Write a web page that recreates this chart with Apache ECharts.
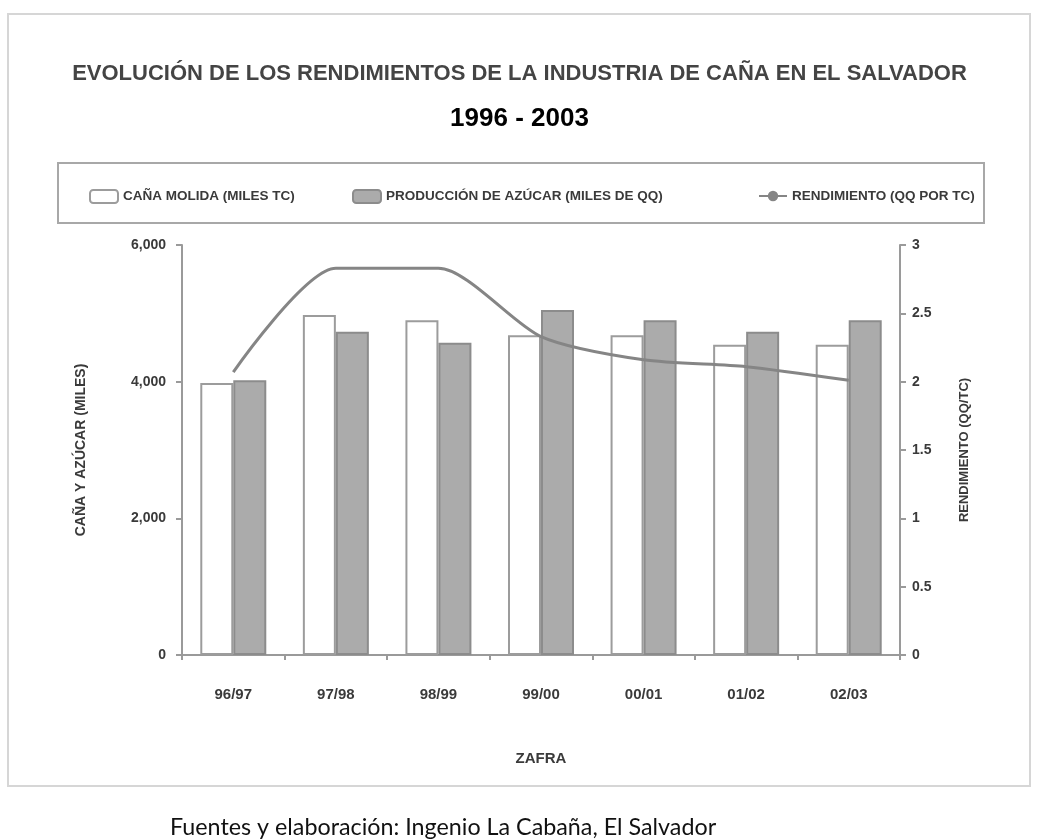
<!DOCTYPE html>
<html>
<head>
<meta charset="utf-8">
<script src="https://cdn.jsdelivr.net/npm/echarts@6/dist/echarts.min.js"></script>
<style>
  html, body { margin: 0; padding: 0; background: #ffffff; }
  #chart { width: 1039px; height: 839px; }
</style>
</head>
<body>
<div id="chart"></div>
<script>
// Zafras 1996/97 – 2002/03
const zafras = ['96/97', '97/98', '98/99', '99/00', '00/01', '01/02', '02/03'];

// Bars (left axis, miles)
const canaMolida = [3980, 4975, 4900, 4680, 4680, 4540, 4540];
const azucarProducida = [4020, 4730, 4570, 5050, 4900, 4730, 4900];

// Line (right axis, qq/TC)
const rendimiento = [2.07, 2.83, 2.83, 2.33, 2.16, 2.11, 2.01];

// Axis ranges
const leftMax = 6000, leftStep = 2000;
const rightMax = 3, rightStep = 0.5;

const names = ['CAÑA MOLIDA (MILES TC)', 'PRODUCCIÓN DE AZÚCAR (MILES DE QQ)', 'RENDIMIENTO (QQ POR TC)'];

const txt = '#3a3a3a';
const axisGray = '#9a9a9a';
const sans = 'Liberation Sans, Arial, sans-serif';

const chart = echarts.init(document.getElementById('chart'), null, { renderer: 'canvas' });

const legendBase = {
  top: 184,
  orient: 'horizontal',
  itemWidth: 28,
  itemHeight: 13,
  itemGap: 10,
  textStyle: { color: txt, fontSize: 13.5, fontWeight: 'bold', fontFamily: sans },
  selectedMode: false
};

chart.setOption({
  backgroundColor: '#ffffff',
  animation: false,
  title: [
    {
      text: 'EVOLUCIÓN DE LOS RENDIMIENTOS DE LA INDUSTRIA DE CAÑA EN EL SALVADOR',
      left: 'center',
      top: 58,
      textStyle: { color: '#444', fontSize: 22, fontWeight: 'bold', fontFamily: sans }
    },
    {
      text: '1996 - 2003',
      left: 'center',
      top: 101,
      textStyle: { color: '#000', fontSize: 26, fontWeight: 'bold', fontFamily: sans }
    },
    {
      text: 'Fuentes y elaboración: Ingenio La Cabaña, El Salvador',
      left: 165,
      top: 811,
      textStyle: { color: '#111', fontSize: 23.3, fontWeight: 'normal', fontFamily: 'Lato, Noto Sans, sans-serif' }
    }
  ],
  graphic: [
    {
      type: 'rect',
      shape: { x: 8, y: 14, width: 1022, height: 772 },
      style: { fill: 'none', stroke: '#d6d6d6', lineWidth: 2 },
      silent: true, z: -1
    },
    {
      type: 'rect',
      shape: { x: 58, y: 163, width: 926, height: 60 },
      style: { fill: '#ffffff', stroke: '#a8a8a8', lineWidth: 2 },
      silent: true, z: -1
    }
  ],
  legend: [
    Object.assign({ left: 84, data: [names[0]] }, legendBase),
    Object.assign({ left: 347, data: [names[1]] }, legendBase),
    Object.assign({ left: 753, data: [names[2]] }, legendBase)
  ],
  grid: { left: 182, right: 139, top: 245, bottom: 184 },
  xAxis: {
    type: 'category',
    data: zafras,
    name: 'ZAFRA',
    nameLocation: 'middle',
    nameGap: 96,
    nameTextStyle: { color: txt, fontSize: 15, fontWeight: 'bold', fontFamily: sans },
    axisLine: { lineStyle: { color: axisGray, width: 2 } },
    axisTick: { show: true, length: 5, lineStyle: { color: axisGray, width: 2 } },
    axisLabel: { color: txt, fontSize: 15, fontWeight: 'bold', margin: 32, fontFamily: sans }
  },
  yAxis: [
    {
      type: 'value',
      min: 0,
      max: leftMax,
      interval: leftStep,
      name: 'CAÑA Y AZÚCAR (MILES)',
      nameLocation: 'middle',
      nameGap: 94,
      nameRotate: 90,
      nameTextStyle: { color: txt, fontSize: 14, fontWeight: 'bold', fontFamily: sans },
      axisLine: { show: true, lineStyle: { color: axisGray, width: 2 } },
      axisTick: { show: true, length: 6, lineStyle: { color: axisGray, width: 2 } },
      splitLine: { show: false },
      axisLabel: {
        color: txt, fontSize: 14, fontWeight: 'bold', margin: 16,
        fontFamily: sans,
        formatter: v => v.toLocaleString('en-US')
      }
    },
    {
      type: 'value',
      min: 0,
      max: rightMax,
      interval: rightStep,
      name: 'RENDIMIENTO (QQ/TC)',
      nameLocation: 'middle',
      nameGap: 58,
      nameRotate: 90,
      nameTextStyle: { color: txt, fontSize: 13, fontWeight: 'bold', fontFamily: sans },
      axisLine: { show: true, lineStyle: { color: axisGray, width: 2 } },
      axisTick: { show: true, length: 6, lineStyle: { color: axisGray, width: 2 } },
      splitLine: { show: false },
      axisLabel: { color: txt, fontSize: 14, fontWeight: 'bold', margin: 12, fontFamily: sans }
    }
  ],
  series: [
    {
      name: names[0],
      type: 'bar',
      yAxisIndex: 0,
      data: canaMolida,
      barWidth: 33,
      barGap: '0%',
      itemStyle: { color: '#ffffff', borderColor: '#9c9c9c', borderWidth: 2 }
    },
    {
      name: names[1],
      type: 'bar',
      yAxisIndex: 0,
      data: azucarProducida,
      barWidth: 33,
      barGap: '0%',
      itemStyle: { color: '#ababab', borderColor: '#8c8c8c', borderWidth: 2 }
    },
    {
      name: names[2],
      type: 'line',
      yAxisIndex: 1,
      data: rendimiento,
      smooth: 0.25,
      showSymbol: false,
      symbol: 'none',
      lineStyle: { color: '#858585', width: 3 },
      itemStyle: { color: '#858585' },
      z: 5
    }
  ]
});
</script>
</body>
</html>
